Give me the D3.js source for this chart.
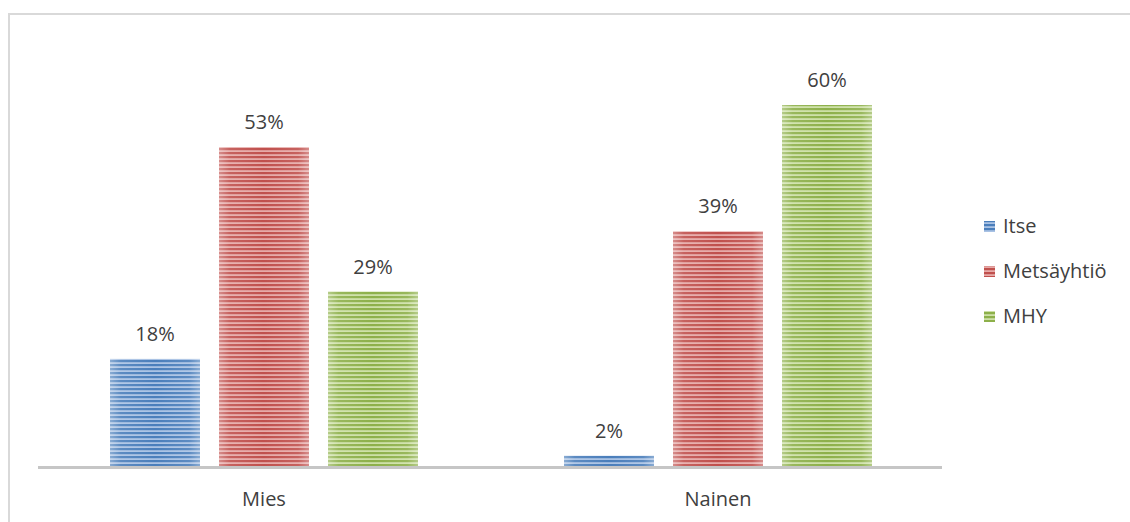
<!DOCTYPE html>
<html><head><meta charset="utf-8">
<script src="https://cdn.jsdelivr.net/npm/d3@7"></script>
<style>body{margin:0;background:#fff;}svg{display:block;font-family:"Open Sans",sans-serif;}</style>
</head><body><svg id="c" width="1130" height="522"></svg>
<script>
const categories = ["Mies", "Nainen"];
const seriesNames = ["Itse", "Metsäyhtiö", "MHY"];
const itse = [0.178, 0.017];
const metsayhtio = [0.53, 0.39];
const mhy = [0.29, 0.60];
const seriesValues = [itse, metsayhtio, mhy];
const colorsDark = ["#4a7ebb", "#c0504d", "#8db04a"];
const colorsLight = ["#a9c2e4", "#e6a9a7", "#cde0a6"];

const svg = d3.select("#c");
const defs = svg.append("defs");
seriesNames.forEach((s, i) => {
  const p = defs.append("pattern").attr("id", "p" + i).attr("patternUnits", "userSpaceOnUse")
    .attr("width", 10).attr("height", 4);
  p.append("rect").attr("width", 10).attr("height", 4).attr("fill", colorsLight[i]);
  p.append("rect").attr("y", 0).attr("width", 10).attr("height", 2.2).attr("fill", colorsDark[i]);
});
const g = defs.append("linearGradient").attr("id", "shade").attr("x1", 0).attr("x2", 1).attr("y1", 0).attr("y2", 0);
[[0, 0.35], [0.12, 0.1], [0.5, 0], [0.88, 0.1], [1, 0.35]].forEach(([o, a]) =>
  g.append("stop").attr("offset", o).attr("stop-color", "#fff").attr("stop-opacity", a));

// outer chart border
svg.append("rect").attr("x", 9).attr("y", 14).attr("width", 1130).attr("height", 520)
  .attr("fill", "none").attr("stroke", "#d9d9d9").attr("stroke-width", 2);

const x0 = d3.scaleBand().domain(categories).range([37, 945]).paddingInner(0.0).paddingOuter(0);
const y = d3.scaleLinear().domain([0, 0.6]).range([466, 105]);
const barW = 90, step = 109;

categories.forEach((c, ci) => {
  const gx = x0(c) + (x0.bandwidth() - (2 * step + barW)) / 2;
  seriesNames.forEach((s, si) => {
    const v = seriesValues[si][ci];
    const bx = gx + si * step;
    svg.append("rect").attr("x", bx).attr("y", y(v)).attr("width", barW).attr("height", y(0) - y(v))
      .attr("fill", `url(#p${si})`);
    svg.append("rect").attr("x", bx).attr("y", y(v)).attr("width", barW).attr("height", y(0) - y(v))
      .attr("fill", "url(#shade)");
    svg.append("text").attr("x", bx + barW / 2).attr("y", y(v) - 18).attr("text-anchor", "middle")
      .attr("font-size", 20).attr("fill", "#404040").text(d3.format(".0%")(v));
  });
  svg.append("text").attr("x", x0(c) + x0.bandwidth() / 2).attr("y", 506).attr("text-anchor", "middle")
    .attr("font-size", 20).attr("fill", "#404040").text(c);
});

// axis line
svg.append("line").attr("x1", 38).attr("x2", 942).attr("y1", y(0) + 1.5).attr("y2", y(0) + 1.5)
  .attr("stroke", "#c6c6c6").attr("stroke-width", 3);

// legend
seriesNames.forEach((s, i) => {
  const ly = 226 + i * 45;
  svg.append("rect").attr("x", 984).attr("y", ly - 5).attr("width", 11).attr("height", 11)
    .attr("fill", `url(#p${i})`);
  svg.append("text").attr("x", 1003).attr("y", ly + 7).attr("font-size", 20).attr("fill", "#404040").text(s);
});
</script></body></html>
